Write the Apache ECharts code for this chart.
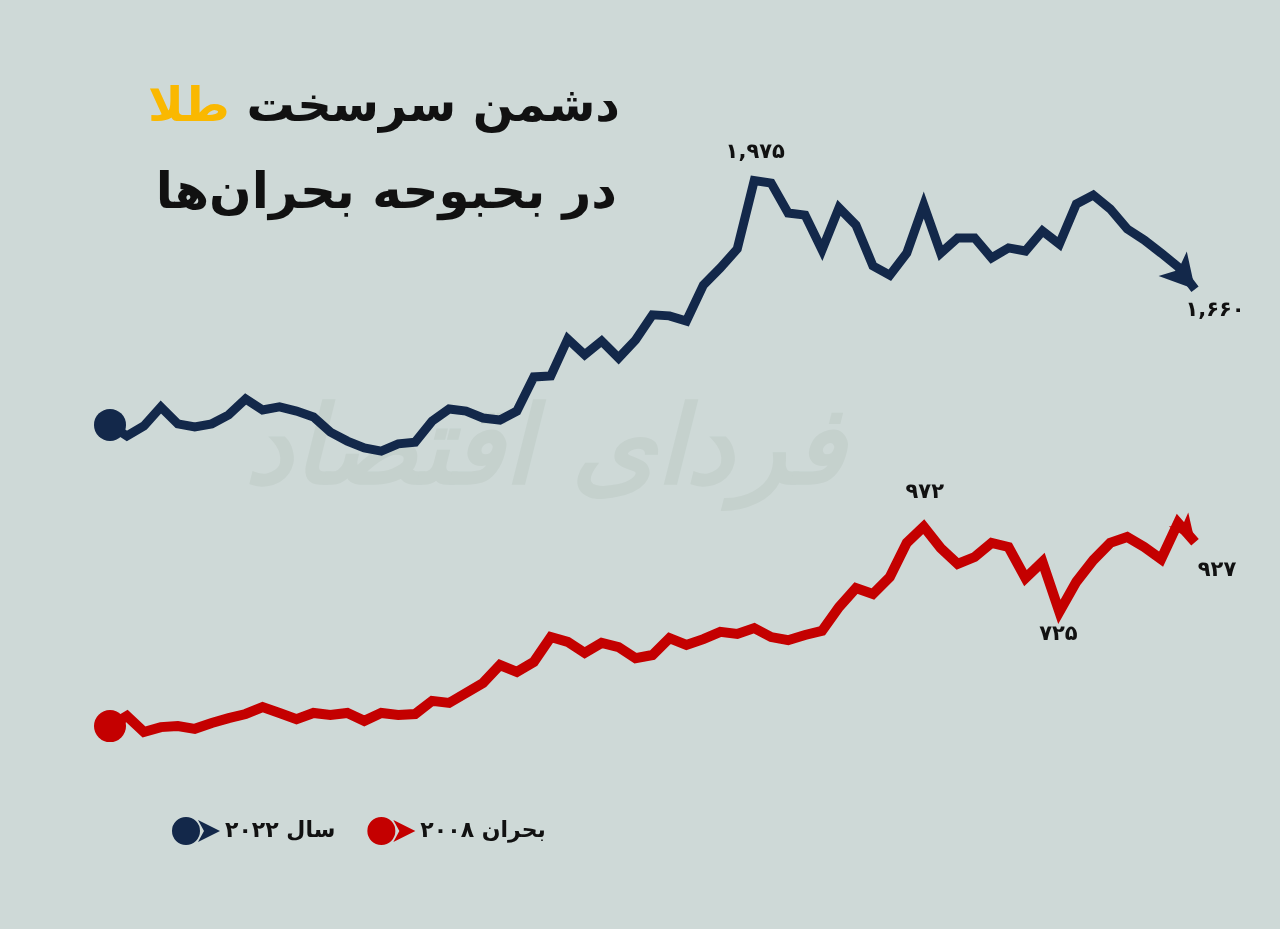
<!DOCTYPE html>
<html>
<head>
<meta charset="utf-8">
<script src="https://cdn.jsdelivr.net/npm/echarts@6/dist/echarts.min.js"></script>
<style>
html,body{margin:0;padding:0;background:#CED9D7;}
#c{width:1280px;height:929px;}
</style>
</head>
<body>
<div id="c"></div>
<script>
// ---- data ----
const categories = ['1','2','3','4','5','6','7','8','9','10','11','12','13','14','15','16','17','18','19','20','21','22','23','24','25','26','27','28','29','30','31','32','33','34','35','36','37','38','39','40','41','42','43','44','45','46','47','48','49','50','51','52','53','54','55','56','57','58','59','60','61','62','63','64','65'];

const seriesNames = ['سال ۲۰۲۲', 'بحران ۲۰۰۸'];

const gold2022 = [1267,1235,1264,1319,1270,1261,1270,1296,1342,1310,
                  1319,1307,1290,1246,1220,1200,1191,1212,1217,1278,
                  1313,1307,1287,1281,1307,1406,1409,1516,1470,1510,
                  1461,1513,1586,1583,1568,1672,1722,1777,1975,1968,
                  1881,1875,1774,1896,1846,1728,1701,1765,1904,1765,
                  1809,1809,1751,1780,1771,1829,1791,1907,1933,1893,
                  1835,1803,1765,1725,1660];

const gold2008 = [394,423,377,391,394,386,403,417,429,449,
                  432,414,432,426,432,409,432,426,429,467,
                  461,490,519,571,551,580,652,638,606,635,
                  623,591,600,649,629,646,667,661,678,652,
                  643,658,670,739,794,777,826,925,972,910,
                  864,884,925,913,823,870,725,812,875,925,
                  942,913,878,983,927];

// indices of the points that carry a value label
const labelIdx2022 = [38, 64];
const labelIdx2008 = [48, 56, 64];

const titleLine1Black = 'دشمن سرسخت';
const titleLine1Gold = 'طلا';
const titleLine2 = 'در بحبوحه بحران‌ها';
const watermark = 'فردای اقتصاد';

// ---- styling / build ----
const FONT = '"DejaVu Sans", "Noto Sans", sans-serif';
const NAVY = '#13284A';
const RED = '#C40000';
const faDigits = '۰۱۲۳۴۵۶۷۸۹';
function toFa(n, comma) {
  const s = comma ? n.toLocaleString('en-US') : String(n);
  return s.replace(/\d/g, d => faDigits[+d]);
}

function buildLine(values, arrowSize, arrowRot) {
  return values.map((v, i) => {
    if (i === 0) return { value: v, symbol: 'circle', symbolSize: 32 };
    if (i === values.length - 1) {
      return { value: v, symbol: 'arrow', symbolSize: arrowSize, symbolRotate: arrowRot };
    }
    return { value: v, symbol: 'none' };
  });
}

function buildMarks(values, idxs, offsets, comma) {
  return {
    symbol: 'circle',
    symbolSize: 1,
    silent: true,
    itemStyle: { color: 'transparent' },
    label: {
      show: true,
      position: 'inside',
      color: '#111',
      fontSize: 21,
      fontWeight: 'bold',
      fontFamily: FONT
    },
    data: idxs.map((idx, k) => ({
      coord: [idx, values[idx]],
      value: values[idx],
      label: { offset: offsets[k], formatter: toFa(values[idx], comma) }
    }))
  };
}

const chart = echarts.init(document.getElementById('c'), null, { renderer: 'canvas' });

const legendIcon = 'path://M0,14 A14,14 0 1,1 28,14 A14,14 0 1,1 0,14 Z M26,3 L48,14 L26,25 L32,14 Z';

chart.setOption({
  backgroundColor: '#CED9D7',
  animation: false,
  title: [
    {
      text: '{b|' + titleLine1Gold + '}{a| ' + titleLine1Black + '}',
      right: 655,
      top: 80,
      textStyle: {
        rich: {
          a: { fontSize: 48, fontWeight: 'bold', color: '#111', fontFamily: FONT },
          b: { fontSize: 48, fontWeight: 'bold', color: '#FAB800', fontFamily: FONT }
        }
      }
    },
    {
      text: titleLine2,
      right: 658,
      top: 165,
      textStyle: { fontSize: 50, fontWeight: 'bold', color: '#111', fontFamily: FONT }
    }
  ],
  graphic: [
    {
      type: 'text',
      x: 545,
      y: 455,
      z: 0,
      silent: true,
      style: {
        text: watermark,
        fill: '#C5D1CD',
        font: 'italic bold 108px ' + FONT,
        align: 'center',
        verticalAlign: 'middle'
      }
    }
  ],
  legend: {
    data: seriesNames,
    left: 167,
    top: 812,
    itemWidth: 48,
    itemHeight: 28,
    itemGap: 32,
    icon: legendIcon,
    textStyle: { fontSize: 22, fontWeight: 'bold', color: '#111', fontFamily: FONT }
  },
  grid: { left: 110, right: 85, top: 34, bottom: 67 },
  xAxis: { type: 'category', data: categories, boundaryGap: false, show: false },
  yAxis: { type: 'value', min: 0, max: 2400, show: false },
  series: [
    {
      name: seriesNames[0],
      type: 'line',
      z: 3,
      color: NAVY,
      itemStyle: { color: NAVY },
      lineStyle: { color: NAVY, width: 9, join: 'miter', miterLimit: 4 },
      emphasis: { disabled: true },
      data: buildLine(gold2022, [28, 34], -139),
      markPoint: buildMarks(gold2022, labelIdx2022, [[1, -28], [20, 21]], true)
    },
    {
      name: seriesNames[1],
      type: 'line',
      z: 3,
      color: RED,
      itemStyle: { color: RED },
      lineStyle: { color: RED, width: 10, join: 'miter', miterLimit: 4 },
      emphasis: { disabled: true },
      data: buildLine(gold2008, [18, 28], -144),
      markPoint: buildMarks(gold2008, labelIdx2008, [[1, -34], [-1, 23], [22, 28]], false)
    }
  ]
});
</script>
</body>
</html>
